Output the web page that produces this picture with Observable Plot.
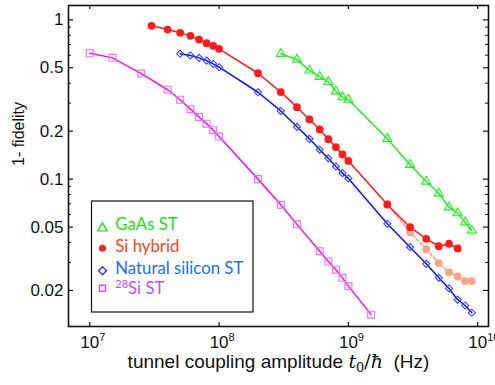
<!DOCTYPE html>
<html>
<head>
<meta charset="utf-8">
<script src="https://cdn.jsdelivr.net/npm/d3@7"></script>
<script src="https://cdn.jsdelivr.net/npm/@observablehq/plot@0.6"></script>
<style>
  html, body { margin: 0; padding: 0; background: #fff; }
  #chart { position: relative; width: 495px; height: 385px; overflow: hidden; }
  #chart > svg { position: absolute; left: 0; top: 0; }
</style>
</head>
<body>
<div id="chart"></div>
<script>
// ---- data ----
const seriesNames = ["GaAs ST", "Si hybrid", "Natural silicon ST", "28Si ST"];

const gaasT0 = [3e8, 4e8, 5e8, 6e8, 7e8, 8e8, 9e8, 1e9, 2e9, 3e9, 4e9, 5e9, 6e9, 7e9, 8e9, 9e9];
const gaasInfidelity = [0.612, 0.563, 0.481, 0.439, 0.408, 0.356, 0.327, 0.316, 0.179, 0.123, 0.0966, 0.0815, 0.0666, 0.0611, 0.0536, 0.0476];

const hybridT0 = [3e7, 4e7, 5e7, 6e7, 7e7, 8e7, 9e7, 1e8, 2e8, 3e8, 4e8, 5e8, 6e8, 7e8, 8e8, 9e8, 1e9, 2e9, 3e9, 4e9, 5e9, 6e9, 7e9];
const hybridInfidelity = [0.917, 0.869, 0.829, 0.793, 0.752, 0.713, 0.687, 0.658, 0.462, 0.352, 0.283, 0.237, 0.205, 0.178, 0.159, 0.143, 0.130, 0.0693, 0.0499, 0.0422, 0.0379, 0.0393, 0.0367];

const hybridAltT0 = [2e9, 3e9, 4e9, 5e9, 6e9, 7e9, 8e9, 9e9];
const hybridAltInfidelity = [0.0693, 0.0464, 0.0363, 0.0297, 0.026, 0.0245, 0.0229, 0.0229];

const natSiT0 = [5e7, 6e7, 7e7, 8e7, 9e7, 1e8, 2e8, 3e8, 4e8, 5e8, 6e8, 7e8, 8e8, 9e8, 1e9, 2e9, 3e9, 4e9, 5e9, 6e9, 7e9, 8e9, 9e9];
const natSiInfidelity = [0.612, 0.597, 0.577, 0.555, 0.529, 0.504, 0.351, 0.268, 0.213, 0.179, 0.153, 0.135, 0.120, 0.109, 0.101, 0.0524, 0.0374, 0.0294, 0.024, 0.0206, 0.0175, 0.0161, 0.0145];

const si28T0 = [1e7, 1.5e7, 2.5e7, 4e7, 5e7, 6e7, 7e7, 8e7, 9e7, 1e8, 2e8, 3e8, 4e8, 6e8, 7e8, 8e8, 9e8, 1e9, 1.5e9];
const si28Infidelity = [0.617, 0.577, 0.460, 0.364, 0.315, 0.275, 0.245, 0.223, 0.203, 0.185, 0.100, 0.069, 0.052, 0.0353, 0.0304, 0.027, 0.024, 0.0213, 0.0141];

const xTicks = [1e7, 1e8, 1e9, 1e10];
const yTicks = [1, 0.5, 0.2, 0.1, 0.05, 0.02];
const yMinorTicks = [0.9, 0.8, 0.7, 0.6, 0.4, 0.3, 0.09, 0.08, 0.07, 0.06, 0.04, 0.03];

const yLabel = "1- fidelity";
const xLabelText = "tunnel coupling amplitude ";

// ---- build ----
const zip = (xs, ys) => xs.map((x, i) => ({x, y: ys[i]}));
const gaas = zip(gaasT0, gaasInfidelity);
const hybrid = zip(hybridT0, hybridInfidelity);
const hybridAlt = zip(hybridAltT0, hybridAltInfidelity);
const natSi = zip(natSiT0, natSiInfidelity);
const si28 = zip(si28T0, si28Infidelity);

const W = 495, H = 385, mL = 68, mR = 7, mT = 5, mB = 59;
const fw = W - mL - mR, fh = H - mT - mB;
const ink = "#111";

const C = {
  gaas: "#22ee22", hybrid: "#ff1c1c", hybridAlt: "#f5a488", natSi: "#0a14ee", natSiMark: "#3848ff",
  si28: "#ee12ee", si28Mark: "#f070f0"
};

const plot = Plot.plot({
  width: W, height: H,
  marginLeft: mL, marginRight: mR, marginTop: mT, marginBottom: mB,
  style: {fontFamily: "'Liberation Sans', Arial, Helvetica, sans-serif", background: "white", color: ink, overflow: "visible"},
  x: {type: "log", domain: [6.843e6, 1.212e10]},
  y: {type: "log", domain: [0.01188, 1.23]},
  marks: [
    // tick marks (inside the frame, on all four sides)
    Plot.ruleX(xTicks, {x: d => d, insetTop: fh - 4, stroke: ink, strokeWidth: 1.2}),
    Plot.ruleX(xTicks, {x: d => d, insetBottom: fh - 4, stroke: ink, strokeWidth: 1.2}),
    Plot.ruleY(yTicks, {y: d => d, insetRight: fw - 5, stroke: ink, strokeWidth: 1.2}),
    Plot.ruleY(yTicks, {y: d => d, insetLeft: fw - 5, stroke: ink, strokeWidth: 1.2}),
    Plot.ruleY(yMinorTicks, {y: d => d, insetRight: fw - 3, stroke: ink, strokeWidth: 1}),
    Plot.ruleY(yMinorTicks, {y: d => d, insetLeft: fw - 3, stroke: ink, strokeWidth: 1}),
    Plot.axisX(xTicks, {anchor: "bottom", tickSize: 0, tickPadding: 9, fontSize: 17, label: null,
      tickFormat: d => "10^" + Math.round(Math.log10(d))}),
    Plot.axisY(yTicks, {anchor: "left", tickSize: 0, tickPadding: 5, fontSize: 17, label: null,
      tickFormat: d => String(d)}),
    // lines
    Plot.line(hybridAlt, {x: "x", y: "y", stroke: C.hybridAlt, strokeWidth: 1.6, strokeDasharray: "3,2"}),
    Plot.line(gaas, {x: "x", y: "y", stroke: C.gaas, strokeWidth: 1.5}),
    Plot.line(hybrid, {x: "x", y: "y", stroke: C.hybrid, strokeWidth: 1.5}),
    Plot.line(natSi, {x: "x", y: "y", stroke: C.natSi, strokeWidth: 1.5}),
    Plot.line(si28, {x: "x", y: "y", stroke: C.si28, strokeWidth: 1.5}),
    // markers
    Plot.dot(hybridAlt, {x: "x", y: "y", r: 3.9, fill: C.hybridAlt, stroke: "none"}),
    Plot.dot(gaas, {x: "x", y: "y", symbol: "triangle2", r: 4.3, fill: "none", stroke: C.gaas, strokeWidth: 1.1}),
    Plot.dot(hybrid, {x: "x", y: "y", r: 3.9, fill: C.hybrid, stroke: "none"}),
    Plot.dot(natSi, {x: "x", y: "y", symbol: "diamond2", r: 3.2, fill: "none", stroke: C.natSiMark, strokeWidth: 1.1}),
    Plot.dot(si28, {x: "x", y: "y", symbol: "square2", r: 4.4, fill: "none", stroke: C.si28Mark, strokeWidth: 1.1}),
    // axis labels
    Plot.text([yLabel], {text: d => d, frameAnchor: "left", dx: -50, rotate: -90, fontSize: 16, fill: ink}),
    Plot.text([xLabelText], {text: d => d, frameAnchor: "bottom", dy: 41, fontSize: 19, fill: ink}),
    Plot.frame({stroke: ink, strokeWidth: 1.6})
  ]
});
document.getElementById("chart").appendChild(plot);

const svg = d3.select(plot);
// superscript exponents on x tick labels
svg.selectAll('g[aria-label="x-axis tick label"] text').each(function () {
  const t = d3.select(this);
  const parts = this.textContent.split("^");
  t.text(null).attr("text-anchor", "start").attr("dx", -9.45);
  t.append("tspan").text(parts[0]);
  t.append("tspan").attr("font-size", 11).attr("dy", -6.3).text(parts[1]);
});
// math part of x label
svg.selectAll("text").filter(function () { return this.textContent.startsWith("tunnel"); }).each(function () {
  const t = d3.select(this);
  const base = this.textContent.replace(/\s+$/, "") + "\u00a0";
  t.text(null);
  t.append("tspan").text(base);
  const serif = "'DejaVu Serif', 'Liberation Serif', serif";
  t.append("tspan").attr("font-family", serif).attr("font-style", "italic").attr("font-size", 19).text("t");
  t.append("tspan").attr("font-family", serif).attr("font-size", 13).attr("dy", 4).text("0");
  t.append("tspan").attr("font-family", serif).attr("font-size", 19).attr("dy", -4).text("/");
  t.append("tspan").attr("font-family", serif).attr("font-style", "italic").attr("font-size", 19).text("\u0127");
  t.append("tspan").text("\u00a0\u00a0(Hz)");
});

// ---- legend (inside the plot frame) ----
const legendRows = [
  {name: seriesNames[0], text: "#22dd22", symbol: d3.symbolTriangle2, size: 62, stroke: "#22dd22", fill: "none", cy: 228.2, by: 230.3},
  {name: seriesNames[1], text: "#f0442a", symbol: d3.symbolCircle, size: 40, stroke: "none", fill: "#ee2a1c", cy: 248.3, by: 252.4},
  {name: seriesNames[2], text: "#1e6ef0", symbol: d3.symbolDiamond2, size: 40, stroke: "#1840f0", fill: "none", cy: 270.8, by: 273.6},
  {name: seriesNames[3], text: "#c04ef2", symbol: d3.symbolSquare2, size: 46, stroke: "#cc55ee", fill: "none", cy: 288.3, by: 293.6}
];
const leg = d3.select("#chart").append("svg").attr("width", W).attr("height", H);
leg.append("rect").attr("x", 91.5).attr("y", 201).attr("width", 161.5).attr("height", 111)
  .attr("fill", "none").attr("stroke", ink).attr("stroke-width", 1.2);
legendRows.forEach(r => {
  leg.append("path").attr("d", d3.symbol(r.symbol, r.size)())
    .attr("transform", `translate(102.5,${r.cy})`)
    .attr("fill", r.fill).attr("stroke", r.stroke).attr("stroke-width", 1.4);
  const t = leg.append("text").attr("x", 115.3).attr("y", r.by).attr("fill", r.text)
    .attr("font-family", "Lato, 'Open Sans', sans-serif").attr("font-size", 16.8);
  if (r.name.startsWith("28")) {
    t.append("tspan").attr("font-size", 11).attr("dy", -6).text("28");
    t.append("tspan").attr("dy", 6).text(r.name.slice(2));
  } else {
    t.text(r.name);
  }
});
</script>
</body>
</html>
